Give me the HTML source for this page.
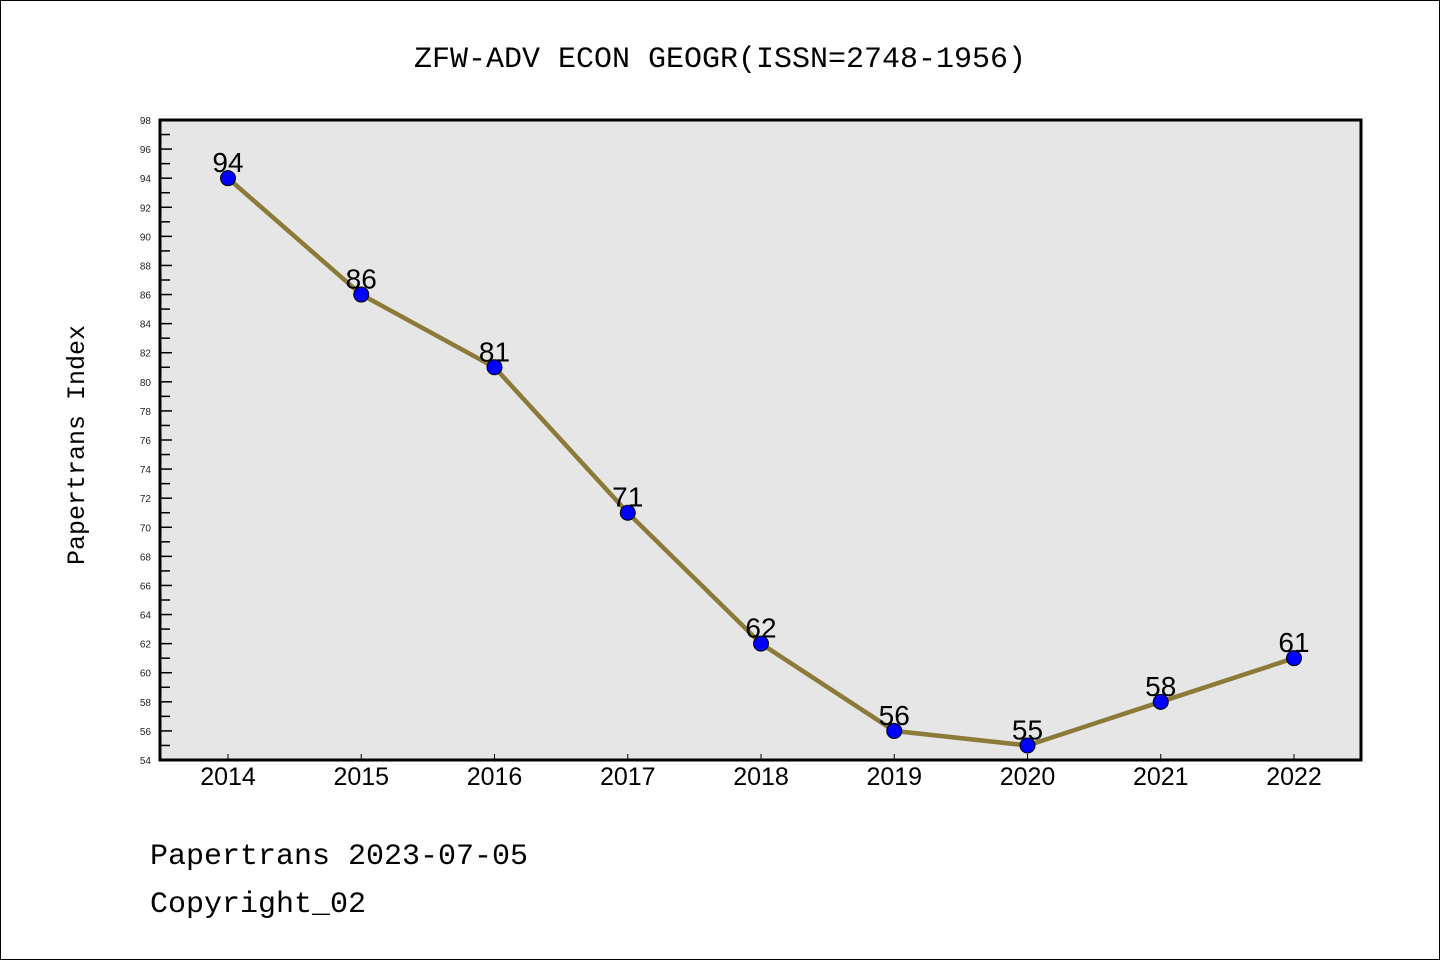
<!DOCTYPE html>
<html><head><meta charset="utf-8"><style>
body{margin:0;background:#fff}
svg{display:block;font-family:"Liberation Sans","DejaVu Sans",sans-serif}
</style></head><body>
<svg id="chart" width="1440" height="960">
<rect x="0.5" y="0.5" width="1439" height="959" fill="#fff" stroke="#000"/>
<text x="720" y="67" text-anchor="middle" font-size="30" font-family="'Liberation Mono',monospace">ZFW-ADV ECON GEOGR(ISSN=2748-1956)</text>
<rect x="160" y="120" width="1201" height="640" fill="#e6e6e6"/>
<g id="yaxis"></g><g id="xaxis"></g><g id="series"></g>
<rect x="160" y="120" width="1201" height="640" fill="none" stroke="#000" stroke-width="3"/>
<text transform="translate(84,445) rotate(-90)" text-anchor="middle" font-size="25" font-family="'Liberation Mono',monospace">Papertrans Index</text>
<text x="150" y="864" font-size="30" font-family="'Liberation Mono',monospace">Papertrans 2023-07-05</text>
<text x="150" y="912" font-size="30" font-family="'Liberation Mono',monospace">Copyright_02</text>
</svg>
<script>
const years=[2014,2015,2016,2017,2018,2019,2020,2021,2022];
const values=[94,86,81,71,62,56,55,58,61];
const yTicks=[54,56,58,60,62,64,66,68,70,72,74,76,78,80,82,84,86,88,90,92,94,96,98];
const NS='http://www.w3.org/2000/svg';
const yMin=54,yMax=98,plotTop=120,plotBot=760;
const yS=v=>plotBot-(v-yMin)/(yMax-yMin)*(plotBot-plotTop);
const xS=i=>228+i*(1294-228)/(years.length-1);
function mk(t,a,p){const e=document.createElementNS(NS,t);for(const k in a)e.setAttribute(k,a[k]);p.appendChild(e);return e;}
const ya=document.getElementById('yaxis'),xa=document.getElementById('xaxis'),sg=document.getElementById('series');
yTicks.forEach(v=>{
 const l=mk('line',{x1:160,x2:172,y1:yS(v),y2:yS(v),stroke:'#000','stroke-width':1.5},ya);
 
 
 const t=mk('text',{x:151,y:yS(v)+4,'text-anchor':'end','font-size':10,fill:'#222'},ya);t.textContent=v;
 
 
 if(v<yMax){const m=mk('line',{x1:160,x2:170,y1:yS(v+1),y2:yS(v+1),stroke:'#000','stroke-width':1.5},ya);
 
 }
});
years.forEach((yr,i)=>{
 const l=mk('line',{x1:xS(i),x2:xS(i),y1:760,y2:754,stroke:'#000','stroke-width':1},xa);
 
 
 const t=mk('text',{x:xS(i),y:785,'text-anchor':'middle','font-size':25},xa);t.textContent=yr;
 
 
});
const p=mk('polyline',{points:values.map((v,i)=>xS(i)+','+yS(v)).join(' '),fill:'none',stroke:'#8c7a38','stroke-width':4.5},sg);


values.forEach((v,i)=>{
 const c=mk('circle',{cx:xS(i),cy:yS(v),r:7.5,fill:'#0000ff',stroke:'#000','stroke-width':1},sg);
 
 
 const t=mk('text',{x:xS(i),y:yS(v)-6,'text-anchor':'middle','font-size':28},sg);t.textContent=v;
 
 
});
</script>
</body></html>
